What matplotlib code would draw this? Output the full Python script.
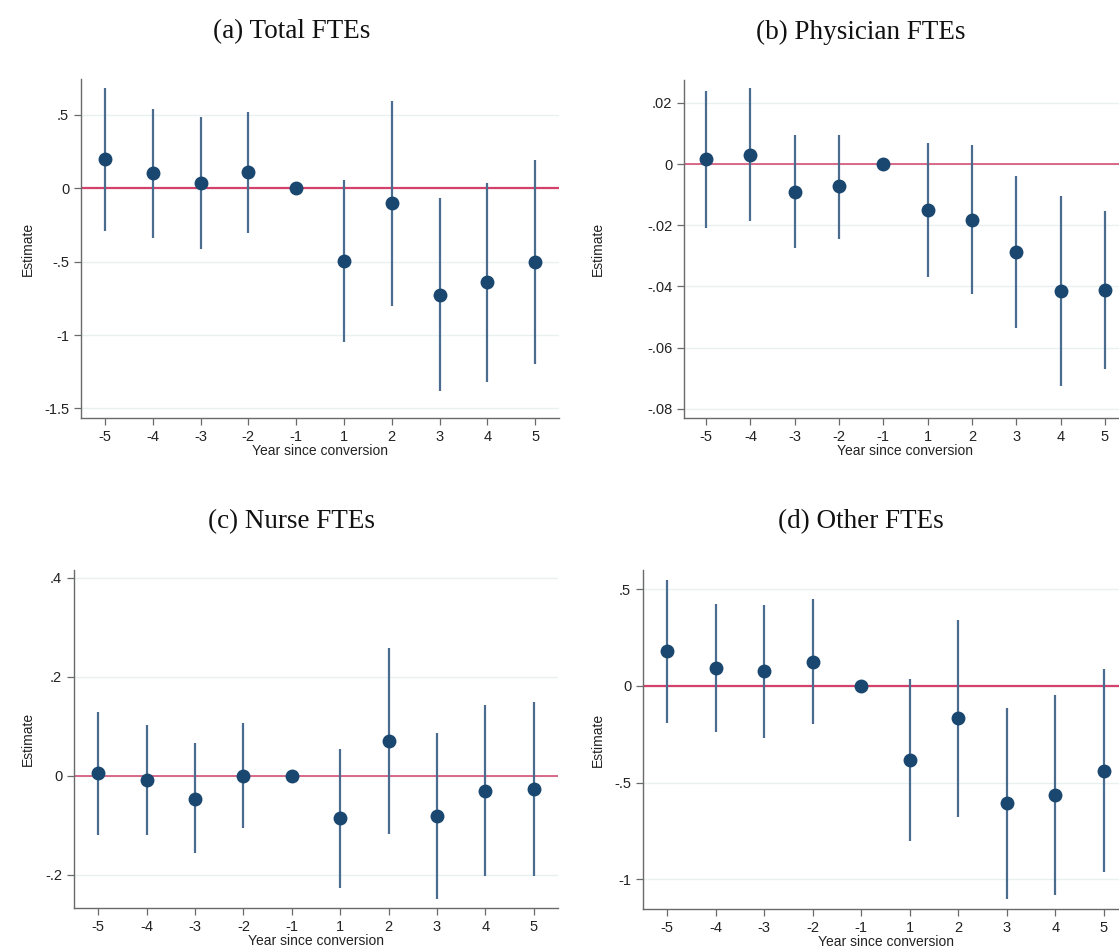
import matplotlib.pyplot as plt
import numpy as np

# event time labels
years = ['-5', '-4', '-3', '-2', '-1', '1', '2', '3', '4', '5']

# (a) Total FTEs
total_est = [0.198, 0.102, 0.039, 0.111, 0.0, -0.495, -0.102, -0.727, -0.639, -0.505]
total_lo = [-0.289, -0.336, -0.414, -0.305, 0.0, -1.048, -0.802, -1.382, -1.318, -1.198]
total_hi = [0.682, 0.541, 0.489, 0.523, 0.0, 0.057, 0.598, -0.068, 0.039, 0.193]

# (b) Physician FTEs
phys_est = [0.0016, 0.0031, -0.0090, -0.0073, 0.0, -0.0150, -0.0183, -0.0286, -0.0416, -0.0412]
phys_lo = [-0.0208, -0.0186, -0.0273, -0.0244, 0.0, -0.0368, -0.0426, -0.0536, -0.0727, -0.0669]
phys_hi = [0.0240, 0.0249, 0.0095, 0.0096, 0.0, 0.0070, 0.0062, -0.0038, -0.0106, -0.0154]

# (c) Nurse FTEs
nurse_est = [0.005, -0.008, -0.046, 0.0, 0.0, -0.086, 0.070, -0.081, -0.030, -0.026]
nurse_lo = [-0.119, -0.119, -0.156, -0.106, 0.0, -0.226, -0.118, -0.248, -0.203, -0.203]
nurse_hi = [0.130, 0.102, 0.066, 0.106, 0.0, 0.054, 0.258, 0.086, 0.143, 0.150]

# (d) Other FTEs
other_est = [0.180, 0.093, 0.075, 0.125, 0.0, -0.384, -0.166, -0.608, -0.563, -0.438]
other_lo = [-0.190, -0.236, -0.267, -0.199, 0.0, -0.801, -0.676, -1.101, -1.079, -0.964]
other_hi = [0.550, 0.423, 0.420, 0.449, 0.0, 0.034, 0.342, -0.115, -0.046, 0.089]

titles = ['(a) Total FTEs', '(b) Physician FTEs', '(c) Nurse FTEs', '(d) Other FTEs']

yticks_a = [-1.5, -1, -0.5, 0, 0.5]
ylabels_a = ['-1.5', '-1', '-.5', '0', '.5']
yticks_b = [-0.08, -0.06, -0.04, -0.02, 0, 0.02]
ylabels_b = ['-.08', '-.06', '-.04', '-.02', '0', '.02']
yticks_c = [-0.2, 0, 0.2, 0.4]
ylabels_c = ['-.2', '0', '.2', '.4']
yticks_d = [-1, -0.5, 0, 0.5]
ylabels_d = ['-1', '-.5', '0', '.5']

W, H = 1119, 947
fig = plt.figure(figsize=(W / 100, H / 100), dpi=100)
fig.patch.set_facecolor('white')

navy = '#1a476f'
ci_col = '#4a6d8f'
red = '#d2426a'
axcol = '#6a6a6a'

panels = [
    # pixel box (left, right, top, bottom), ylim, data, ticks, title pos, red lw
    ((81, 559, 79, 418), (-1.565, 0.745), (total_est, total_lo, total_hi), (yticks_a, ylabels_a), (292, 32), 1.6),
    ((684, 1127, 80, 418), (-0.0830, 0.02745), (phys_est, phys_lo, phys_hi), (yticks_b, ylabels_b), (861, 32), 1.1),
    ((74, 558, 570, 908), (-0.267, 0.416), (nurse_est, nurse_lo, nurse_hi), (yticks_c, ylabels_c), (292, 522), 1.1),
    ((643, 1128, 570, 909), (-1.154, 0.600), (other_est, other_lo, other_hi), (yticks_d, ylabels_d), (861, 522), 1.6),
]

x = np.arange(1, len(years) + 1)

for i, (box, ylim, data, ticks, tpos, rlw) in enumerate(panels):
    l, r, t, b = box
    ax = fig.add_axes([l / W, 1 - b / H, (r - l) / W, (b - t) / H])
    est, lo, hi = data
    ax.set_xlim(0.5, 10.5)
    ax.set_ylim(*ylim)
    ax.set_yticks(ticks[0])
    ax.set_yticklabels(ticks[1])
    ax.set_xticks(x)
    ax.set_xticklabels(years)
    ax.grid(axis='y', color='#e8f0f2', lw=1.0, zorder=0)
    ax.set_axisbelow(True)
    ax.axhline(0, color=red, lw=rlw, zorder=2)
    ax.vlines(x, lo, hi, color=ci_col, lw=1.6, zorder=3)
    ax.plot(x, est, 'o', color=navy, ms=9, zorder=4, clip_on=False)
    for s in ['top', 'right']:
        ax.spines[s].set_visible(False)
    for s in ['left', 'bottom']:
        ax.spines[s].set_color(axcol)
        ax.spines[s].set_linewidth(1.0)
    ax.tick_params(colors=axcol, labelcolor='#222222', labelsize=10.5, length=5, width=0.9)
    ax.set_xlabel('Year since conversion', fontsize=10, color='#222222', labelpad=0)
    ax.set_ylabel('Estimate', fontsize=10, color='#222222')
    ylx = 35 if i % 2 == 0 else 605
    ax.yaxis.set_label_coords((ylx - l) / (r - l), 0.5)
    for lab in ax.get_xticklabels() + ax.get_yticklabels():
        lab.set_fontfamily('Liberation Sans')
    ax.xaxis.label.set_fontfamily('Liberation Sans')
    ax.yaxis.label.set_fontfamily('Liberation Sans')
    fig.text(tpos[0] / W, 1 - tpos[1] / H, titles[i], ha='center', va='center',
             fontsize=19.5, family='Liberation Serif', color='#111111')

fig.savefig('out.png', dpi=100)
